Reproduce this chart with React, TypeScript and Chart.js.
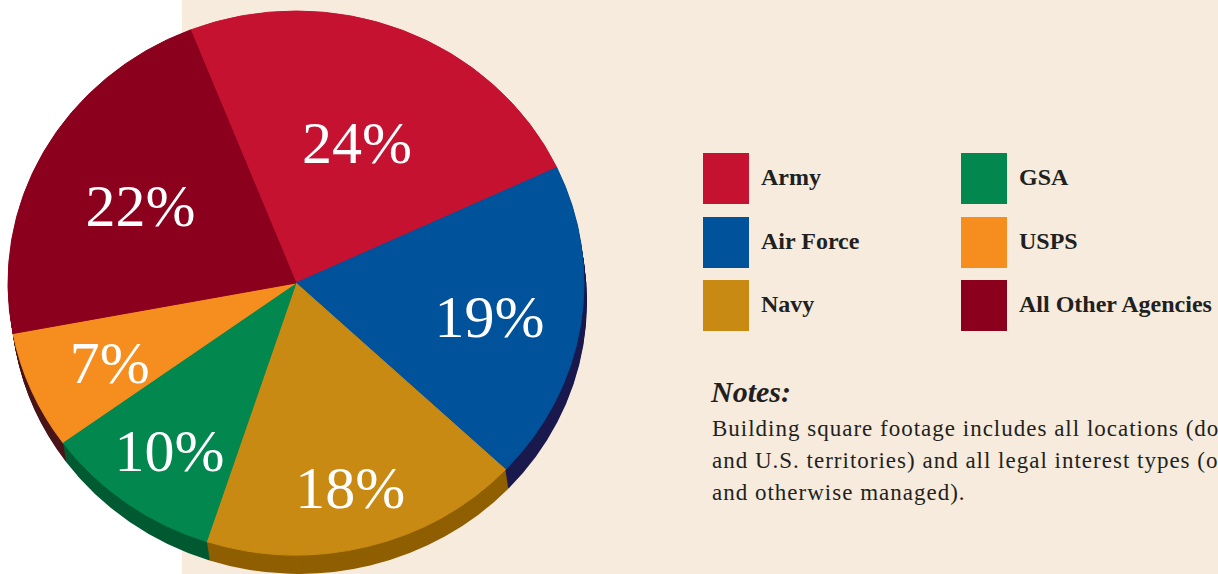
import React, { useEffect, useRef } from "react";
import { Chart, registerables } from "chart.js";

Chart.register(...registerables);

// ---- data ----
const categories = ["Army", "Air Force", "Navy", "GSA", "USPS", "All Other Agencies"];
const shares = [24, 19, 18, 10, 7, 22];
const topColors = ["#C41230", "#00529B", "#C88A12", "#02874F", "#F68E1F", "#8A001D"];
const sideColors = ["#7A0A1E", "#1B1A4E", "#8F5F00", "#005A32", "#4A1518", "#4A1518"];
const legendColumns = [[0, 1, 2], [3, 4, 5]];
const notesTitle = "Notes:";
const notesLines = [
  "Building square footage includes all locations (domestic, foreign,",
  "and U.S. territories) and all legal interest types (owned, leased,",
  "and otherwise managed).",
];

// ---- style constants ----
const SQUASH = 272 / 288;
const DEPTH = 19;
const SHIFT_X = 3;
const LABEL_FONT = 60;
const BEIGE = "#F6EBDC";
const INK = "#231F20";

const pie3dPlugin = {
  id: "pie3d",
  beforeDatasetsDraw(chart: any) {
    const ctx = chart.ctx;
    const arcs = chart.getDatasetMeta(0).data;
    if (!arcs.length) return;
    const cx = arcs[0].x;
    const cy = arcs[0].y;
    for (let k = DEPTH; k >= 1; k--) {
      ctx.save();
      ctx.translate(cx + (SHIFT_X * k) / DEPTH, cy + k);
      ctx.scale(1, SQUASH);
      arcs.forEach((arc: any, i: number) => {
        ctx.beginPath();
        ctx.moveTo(0, 0);
        ctx.arc(0, 0, arc.outerRadius, arc.startAngle, arc.endAngle);
        ctx.closePath();
        ctx.fillStyle = sideColors[i];
        ctx.fill();
      });
      ctx.restore();
    }
    ctx.save();
    ctx.translate(cx, cy);
    ctx.scale(1, SQUASH);
    ctx.translate(-cx, -cy);
  },
  afterDatasetsDraw(chart: any) {
    const ctx = chart.ctx;
    ctx.restore();
    const arcs = chart.getDatasetMeta(0).data;
    if (!arcs.length) return;
    const cx = arcs[0].x;
    const cy = arcs[0].y;
    ctx.save();
    ctx.fillStyle = "#FFFFFF";
    ctx.font = `${LABEL_FONT}px "Liberation Serif", "DejaVu Serif", serif`;
    ctx.textAlign = "center";
    ctx.textBaseline = "alphabetic";
    arcs.forEach((arc: any, i: number) => {
      const mid = (arc.startAngle + arc.endAngle) / 2;
      const fromTop = mid + Math.PI / 2;
      const f = 0.665 - 0.1 * Math.cos(fromTop);
      const r = arc.outerRadius * f;
      const x = cx + Math.cos(mid) * r;
      const y = cy + Math.sin(mid) * r * SQUASH + 4;
      ctx.fillText(`${shares[i]}%`, x, y + LABEL_FONT * 0.338);
    });
    ctx.restore();
  },
};

export default function App() {
  const canvasRef = useRef<HTMLCanvasElement | null>(null);

  useEffect(() => {
    if (!canvasRef.current) return;
    const chart = new Chart(canvasRef.current, {
      type: "pie",
      data: {
        labels: categories,
        datasets: [
          {
            data: shares,
            backgroundColor: topColors,
            borderColor: topColors,
            borderWidth: 1,
            clip: false,
          } as any,
        ],
      },
      options: {
        responsive: false,
        animation: false,
        devicePixelRatio: 1,
        events: [],
        rotation: -21.5,
        radius: 288,
        layout: { padding: { left: 0, right: 8, top: 0, bottom: 8 } },
        plugins: {
          legend: { display: false },
          tooltip: { enabled: false },
        },
      } as any,
      plugins: [pie3dPlugin],
    });
    return () => chart.destroy();
  }, []);

  return (
    <div
      style={{
        position: "fixed",
        left: 0,
        top: 0,
        width: 1218,
        height: 574,
        overflow: "hidden",
        background: "#FFFFFF",
      }}
    >
      <div
        style={{
          position: "absolute",
          left: 182,
          top: 0,
          right: 0,
          bottom: 0,
          background: BEIGE,
        }}
      />
      <canvas
        ref={canvasRef}
        width={600}
        height={574}
        style={{ position: "absolute", left: 0, top: 0, width: 600, height: 574 }}
      />
      {legendColumns.map((col, ci) =>
        col.map((idx, ri) => (
          <div
            key={idx}
            style={{
              position: "absolute",
              left: 703 + ci * 258,
              top: 153 + ri * 63.5,
              height: 51,
              width: 260,
            }}
          >
            <div
              style={{
                position: "absolute",
                left: 0,
                top: 0,
                width: 46,
                height: 51,
                background: topColors[idx],
              }}
            />
            <div
              style={{
                position: "absolute",
                left: 58,
                top: -1,
                height: 51,
                lineHeight: "51px",
                fontFamily: '"Liberation Serif", "DejaVu Serif", serif',
                fontWeight: "bold",
                fontSize: 24,
                color: INK,
                whiteSpace: "nowrap",
              }}
            >
              {categories[idx]}
            </div>
          </div>
        ))
      )}
      <div
        style={{
          position: "absolute",
          left: 711,
          top: 377,
          fontFamily: '"Liberation Serif", "DejaVu Serif", serif',
          fontWeight: "bold",
          fontStyle: "italic",
          fontSize: 30,
          lineHeight: "30px",
          color: INK,
          whiteSpace: "nowrap",
        }}
      >
        {notesTitle}
      </div>
      <div
        style={{
          position: "absolute",
          left: 712,
          top: 413,
          fontFamily: '"Liberation Serif", "DejaVu Serif", serif',
          fontSize: 23,
          letterSpacing: "1px",
          lineHeight: "32px",
          color: INK,
          whiteSpace: "nowrap",
        }}
      >
        {notesLines.map((l, i) => (
          <div key={i}>{l}</div>
        ))}
      </div>
    </div>
  );
}
